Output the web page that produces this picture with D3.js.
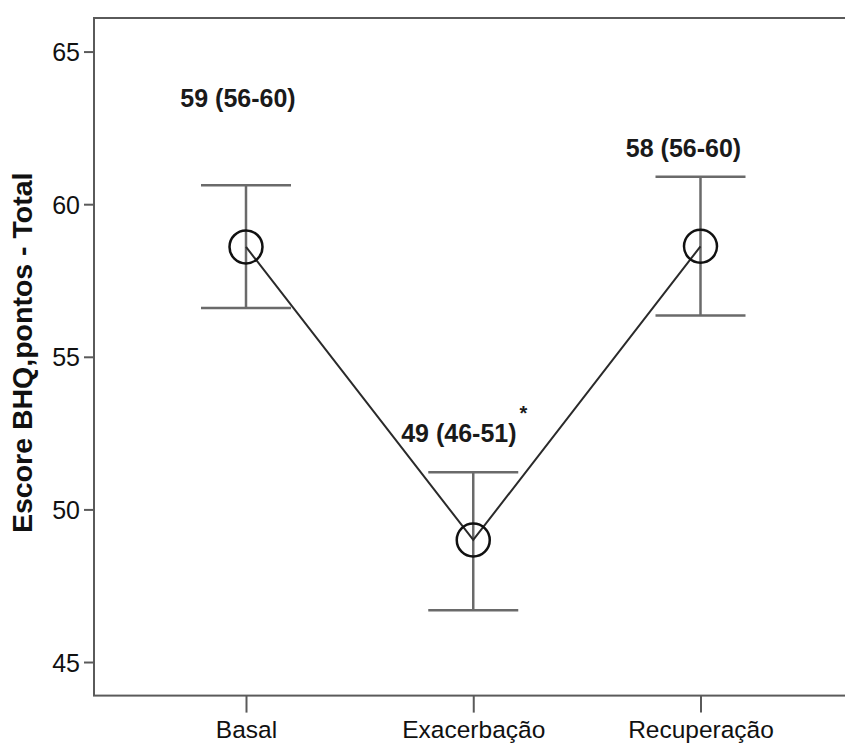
<!DOCTYPE html>
<html>
<head>
<meta charset="utf-8">
<script src="https://cdn.jsdelivr.net/npm/d3@7"></script>
<style>
  body { margin: 0; background: #fff; overflow: hidden; }
  text { font-family: Arial, "Liberation Sans", sans-serif; }
</style>
</head>
<body>
<div id="chart"></div>
<script>
// values
const categories = ["Basal", "Exacerbação", "Recuperação"];
const means = [58.6, 49.0, 58.62];
const lowerCI = [56.6, 46.7, 56.35];
const upperCI = [60.62, 51.22, 60.9];
const labels = ["59 (56-60)", "49 (46-51)", "58 (56-60)"];
const labelY = [63.2, 52.2, 61.55];      // label baselines, in score units
const labelDx = [-8, -9, -17];
const marks = ["", "*", ""];
const yTicks = [45, 50, 55, 60, 65];

const width = 845, height = 747;
const frame = { left: 94, top: 18, right: 880, bottom: 695.6 };

const svg = d3.select("#chart").append("svg")
    .attr("width", width)
    .attr("height", height)
    .style("display", "block");

const x = d3.scalePoint()
    .domain(categories)
    .range([246, 700.5]);

const y = d3.scaleLinear()
    .domain([43.9, 66.1])
    .range([frame.bottom, frame.top]);

// frame
svg.append("rect")
    .attr("x", frame.left)
    .attr("y", frame.top)
    .attr("width", frame.right - frame.left)
    .attr("height", frame.bottom - frame.top)
    .attr("fill", "none")
    .attr("stroke", "#5a5a5a")
    .attr("stroke-width", 2);

// y axis
const yAxis = svg.append("g")
    .attr("transform", `translate(${frame.left},0)`)
    .call(d3.axisLeft(y).tickValues(yTicks).tickSize(10).tickPadding(4));
yAxis.select(".domain").remove();
yAxis.selectAll("line").attr("stroke", "#5a5a5a").attr("stroke-width", 2);
yAxis.selectAll("text")
    .attr("fill", "#111")
    .style("font-size", "25px")
    .attr("dy", "0.36em");

// x axis
const xAxis = svg.append("g")
    .attr("transform", `translate(0,${frame.bottom})`)
    .call(d3.axisBottom(x).tickSize(17).tickPadding(5));
xAxis.select(".domain").remove();
xAxis.selectAll("line").attr("stroke", "#5a5a5a").attr("stroke-width", 2);
xAxis.selectAll("text")
    .attr("fill", "#111")
    .style("font-size", "24.5px")
    .attr("dy", "0.85em");

// y title
svg.append("text")
    .attr("transform", `translate(32,${(frame.top + frame.bottom) / 2 - 4}) rotate(-90)`)
    .attr("text-anchor", "middle")
    .attr("fill", "#111")
    .style("font-size", "28.5px")
    .style("font-weight", "bold")
    .text("Escore BHQ,pontos - Total");

const data = categories.map((c, i) => ({
    cat: c, mean: means[i], lo: lowerCI[i], hi: upperCI[i],
    label: labels[i], ly: labelY[i], dx: labelDx[i], mark: marks[i]
}));

// error bars
const bars = svg.append("g").attr("stroke", "#6a6a6a").attr("stroke-width", 2.5);
bars.selectAll(".stem").data(data).enter().append("line")
    .attr("x1", d => x(d.cat)).attr("x2", d => x(d.cat))
    .attr("y1", d => y(d.lo)).attr("y2", d => y(d.hi));
bars.selectAll(".capHi").data(data).enter().append("line")
    .attr("x1", d => x(d.cat) - 45).attr("x2", d => x(d.cat) + 45)
    .attr("y1", d => y(d.hi)).attr("y2", d => y(d.hi));
bars.selectAll(".capLo").data(data).enter().append("line")
    .attr("x1", d => x(d.cat) - 45).attr("x2", d => x(d.cat) + 45)
    .attr("y1", d => y(d.lo)).attr("y2", d => y(d.lo));

// line through means
svg.append("path")
    .datum(data)
    .attr("fill", "none")
    .attr("stroke", "#2a2a2a")
    .attr("stroke-width", 2)
    .attr("d", d3.line().x(d => x(d.cat)).y(d => y(d.mean)));

// mean markers
svg.selectAll(".pt").data(data).enter().append("circle")
    .attr("cx", d => x(d.cat))
    .attr("cy", d => y(d.mean))
    .attr("r", 16.5)
    .attr("fill", "none")
    .attr("stroke", "#111")
    .attr("stroke-width", 2.5);

// value labels
const lab = svg.selectAll(".lab").data(data).enter().append("text")
    .attr("x", d => x(d.cat) + d.dx)
    .attr("y", d => y(d.ly))
    .attr("text-anchor", "middle")
    .attr("fill", "#1a1a1a")
    .style("font-size", "25px")
    .style("font-weight", "bold");
lab.append("tspan").text(d => d.label);
lab.filter(d => d.mark).append("tspan")
    .attr("dx", 3)
    .attr("dy", -22)
    .style("font-size", "20px")
    .text(d => d.mark);
</script>
</body>
</html>
